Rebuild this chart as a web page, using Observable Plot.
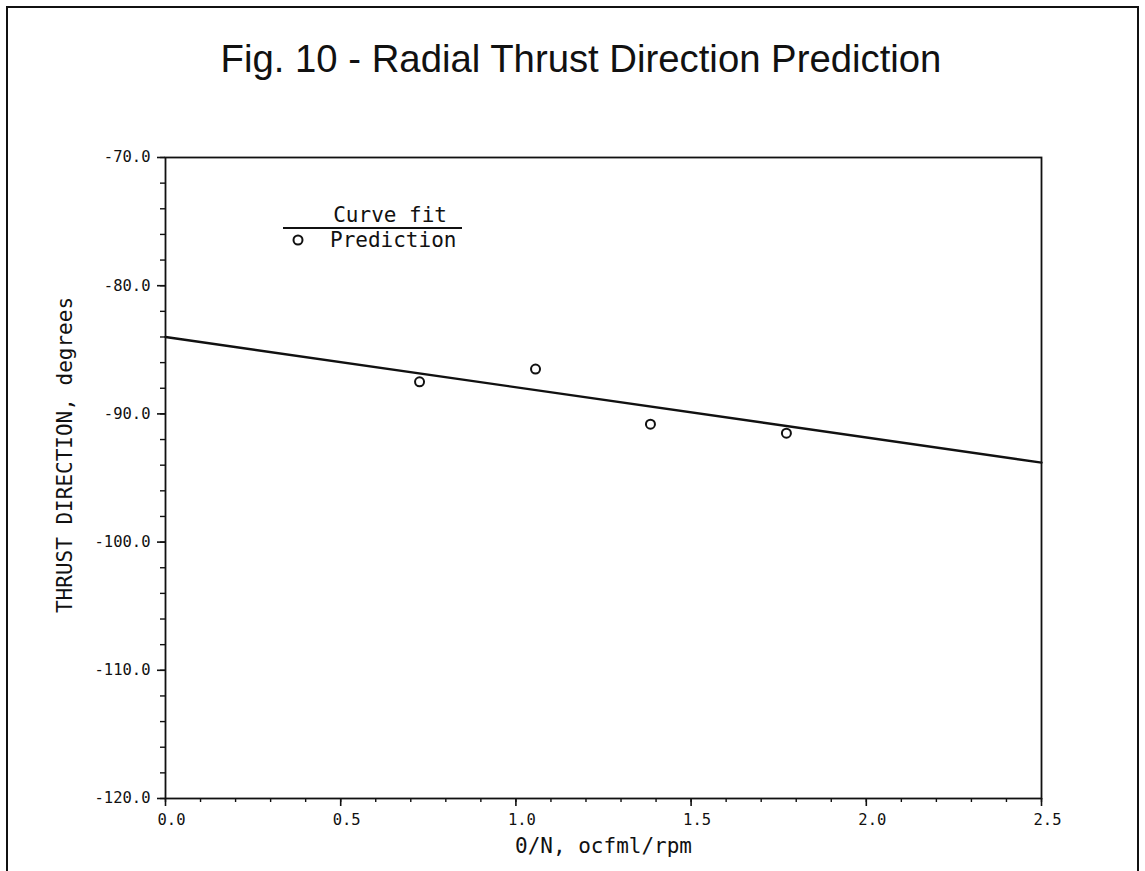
<!DOCTYPE html>
<html>
<head>
<meta charset="utf-8">
<script src="https://cdn.jsdelivr.net/npm/d3@7"></script>
<script src="https://cdn.jsdelivr.net/npm/@observablehq/plot@0.6"></script>
<style>
  html, body { margin: 0; padding: 0; background: #fff; overflow: hidden; }
  #wrap { position: relative; width: 1145px; height: 871px; }
  #border { position: absolute; left: 6px; top: 6px; width: 1133px; height: 900px;
            border: 2px solid #111; box-sizing: border-box; }
  #title { position: absolute; left: 81px; top: 37px; width: 1000px; text-align: center;
           font-family: "Liberation Sans", Arial, sans-serif; font-size: 38.3px; color: #111;
           line-height: 44px; }
  #chart { position: absolute; left: 0; top: 0; }
  #legend { position: absolute; left: 283px; top: 204px; width: 179px;
            font-family: "DejaVu Sans Mono", monospace; font-size: 21px; color: #111; }
  #legend .fit { text-align: right; padding-right: 15px; border-bottom: 2px solid #111;
                 line-height: 23px; }
  #legend .pred { position: relative; line-height: 22px; padding-left: 47px; }
  #legend .pred svg { position: absolute; left: 8px; top: 4px; }
</style>
</head>
<body>
<div id="wrap">
  <div id="border"></div>
  <div id="chart"></div>
  <div id="title"></div>
  <div id="legend"></div>
</div>
<script>
// ---- data ----
const titleText = "Fig. 10 - Radial Thrust Direction Prediction";
const xLabel = "0/N, ocfml/rpm";
const yLabel = "THRUST DIRECTION, degrees";
const legendLabels = ["Curve fit", "Prediction"];

const predX = [0.725, 1.056, 1.384, 1.772];
const predY = [-87.5, -86.5, -90.8, -91.5];

const fitX = [0.0, 2.5];
const fitY = [-84.0, -93.8];

const xMajor = [0.0, 0.5, 1.0, 1.5, 2.0, 2.5];
const xMinor = d3.range(0, 26).map(i => i / 10);
const yMajor = [-120, -110, -100, -90, -80, -70];
const yMinor = d3.range(-120, -69, 2);

const pred = predX.map((x, i) => ({x, y: predY[i]}));
const fit = fitX.map((x, i) => ({x, y: fitY[i]}));

const mono = "DejaVu Sans Mono";

const chart = Plot.plot({
  width: 1145,
  height: 871,
  marginLeft: 165,
  marginRight: 104,
  marginTop: 157,
  marginBottom: 73,
  style: {background: "transparent", fontFamily: mono, fontSize: "15px", color: "#111"},
  x: {domain: [0, 2.5]},
  y: {domain: [-120, -70]},
  marks: [
    Plot.frame({stroke: "#111", strokeWidth: 1.8}),
    // minor ticks
    Plot.axisX({ticks: xMinor, tickSize: 4, tickFormat: () => "", label: null, strokeWidth: 1.4}),
    Plot.axisY({ticks: yMinor, tickSize: 5, tickFormat: () => "", label: null, strokeWidth: 1.4}),
    // major ticks
    Plot.axisX({ticks: xMajor, tickSize: 8, tickFormat: () => "", label: null, strokeWidth: 1.6}),
    Plot.axisY({ticks: yMajor, tickSize: 8, tickFormat: () => "", label: null, strokeWidth: 1.6}),
    // tick labels
    Plot.axisX({ticks: xMajor, tickSize: 0, tickPadding: 15, dx: 6, tickFormat: d => d.toFixed(1),
                label: null, fontFamily: mono, fontSize: 15.5, stroke: "#111", strokeWidth: 0.35}),
    Plot.axisY({ticks: yMajor, tickSize: 0, tickPadding: 15, tickFormat: d => d.toFixed(1),
                label: null, fontFamily: mono, fontSize: 15.5, stroke: "#111", strokeWidth: 0.35}),
    // axis titles
    Plot.text([xLabel], {frameAnchor: "bottom", dy: 54, fontSize: 21, fontFamily: mono, fill: "#111"}),
    Plot.text([yLabel], {frameAnchor: "left", textAnchor: "middle", dx: -100, dy: -23, rotate: -90,
                         fontSize: 21, fontFamily: mono, fill: "#111"}),
    // data
    Plot.line(fit, {x: "x", y: "y", stroke: "#111", strokeWidth: 2.4}),
    Plot.dot(pred, {x: "x", y: "y", r: 4.5, stroke: "#111", strokeWidth: 2, fill: "none"})
  ]
});
document.getElementById("chart").appendChild(chart);

document.getElementById("title").textContent = titleText;
document.getElementById("legend").innerHTML =
  `<div class="fit">${legendLabels[0]}</div>` +
  `<div class="pred"><svg width="14" height="14"><circle cx="7" cy="7" r="4.5" fill="none" stroke="#111" stroke-width="2"/></svg>${legendLabels[1]}</div>`;
</script>
</body>
</html>
